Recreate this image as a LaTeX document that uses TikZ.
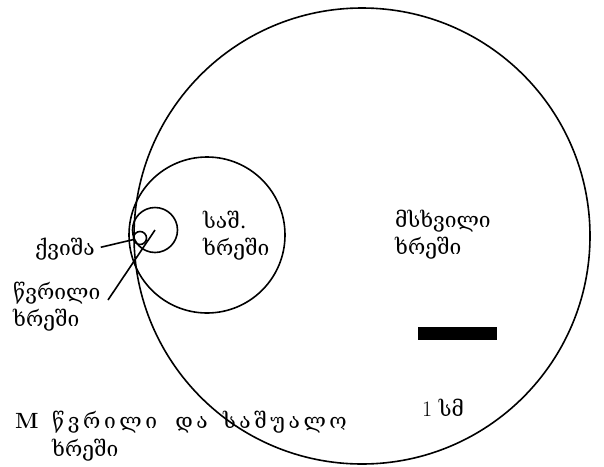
\documentclass[tikz,border=0pt]{standalone}
\usepackage{fontspec}
\newfontfamily\geo{DejaVu Serif}
\newfontfamily\geosp[LetterSpace=17]{DejaVu Serif}
\begin{document}
\begin{tikzpicture}[x=1pt,y=-1pt,
  geo/.style={font=\geo\fontsize{21}{27}\selectfont, inner sep=0pt, anchor=base west, align=left},
  ring/.style={circle, draw, line width=1.6pt, inner sep=0pt},
  ln/.style={line width=1.6pt}]
\useasboundingbox (0,0) rectangle (604,466);
% circles
\node[ring, minimum size=456pt] (big) at (362,236) {};
\node[ring, minimum size=156pt] (med) at (207,235) {};
\node[ring, minimum size=45pt] (small) at (155,230) {};
\node[ring, minimum size=13pt] (tiny) at (140,238) {};
% labels (anchor = baseline of the last line)
\node[geo] (qv) at (35,255) {ქვიშა};
\node[geo] (fine) at (13,326) {წვრილი\\ხრეში};
\node[geo] (mid) at (203,255) {საშ.\\ხრეში};
\node[geo] (coarse) at (395,254) {მსხვილი\\ხრეში};
% leaders
\coordinate (fineend) at (108,300);
\draw[ln, shorten <=6pt] (qv.east) -- (tiny);
\draw[ln] (fineend) -- (small.center);
% scale bar
\node[fill=black, inner sep=0pt, minimum width=79pt, minimum height=13pt, anchor=north west] (bar) at (418,327) {};
\node[inner sep=0pt, anchor=base west, font=\fontsize{22}{24}\selectfont] (scale) at (422,416) {1 {\geo\fontsize{21}{24}\selectfont სმ}};
% caption
\node[inner sep=0pt, anchor=base west, font=\bfseries\fontsize{22}{24}\selectfont] (fig) at (15,428) {M};
\node[geo, font=\geo\fontsize{21}{28}\selectfont] (cap) at (52,456) {{\geosp წვრილი\hspace{8pt} და\hspace{5pt} საშუალო}\\ხრეში};
\end{tikzpicture}
\end{document}
